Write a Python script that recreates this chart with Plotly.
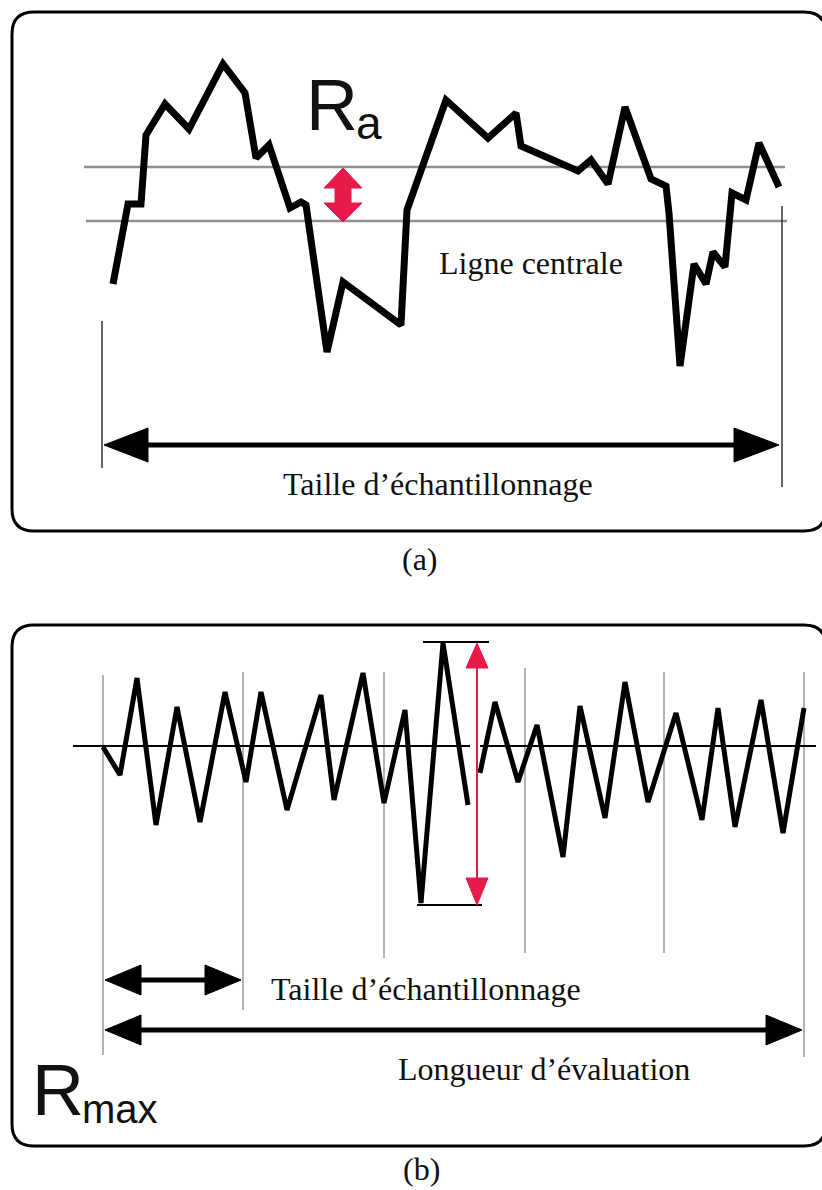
import plotly.graph_objects as go

W, H = 822, 1190

# ---------------- data: roughness profiles ----------------
profile_a_x = [113, 128, 141, 146, 165, 189, 223, 245, 256, 269, 290, 301, 306, 327, 343,
               401, 407, 446, 488, 516, 521, 578, 591, 608, 625, 651, 666, 669, 680, 694,
               706, 713, 725, 732, 746, 759, 779]
profile_a_y = [284, 204, 204, 135, 104, 129, 64, 93, 158, 145, 208, 202, 205, 352, 282,
               325, 210, 100, 138, 113, 146, 171, 160, 184, 107, 179, 186, 213, 366, 264,
               284, 252, 267, 193, 200, 143, 187]

profile_b_x = [103, 120, 137, 156, 177, 200, 225, 246, 261, 287, 321, 334, 363, 384, 405,
               421, 443, 468, None, 480, 495, 518, 537, 563, 580, 605, 625, 648, 676, 702,
               718, 735, 761, 783, 804]
profile_b_y = [747, 775, 678, 825, 707, 822, 692, 782, 692, 810, 695, 800, 673, 803, 710,
               903, 643, 805, None, 773, 702, 782, 725, 857, 706, 818, 682, 802, 713, 820,
               708, 827, 700, 833, 708]

# sampling-length boundaries in (b)
sample_x = [103, 243, 384, 525, 664, 804]
sample_top = [675, 672, 672, 668, 672, 672]
sample_bot = [1055, 1010, 958, 953, 953, 1057]

# labels
label_center = "Ligne centrale"
label_sample = "Taille d\u2019échantillonnage"
label_eval = "Longueur d\u2019évaluation"
caption_a = "(a)"
caption_b = "(b)"

RED = "#E8194B"
SERIF = "Liberation Serif, Times New Roman, serif"
SANS = "Liberation Sans, Arial, sans-serif"

fig = go.Figure()

fig.add_trace(go.Scatter(x=profile_a_x, y=profile_a_y, mode="lines",
                         line=dict(color="black", width=7), hoverinfo="skip"))
fig.add_trace(go.Scatter(x=profile_b_x, y=profile_b_y, mode="lines",
                         line=dict(color="black", width=5), hoverinfo="skip",
                         connectgaps=False))

shapes = []


def rounded_box(x0, y0, x1, y1, r):
    p = (f"M {x0+r},{y0} L {x1-r},{y0} Q {x1},{y0} {x1},{y0+r} "
         f"L {x1},{y1-r} Q {x1},{y1} {x1-r},{y1} L {x0+r},{y1} "
         f"Q {x0},{y1} {x0},{y1-r} L {x0},{y0+r} Q {x0},{y0} {x0+r},{y0} Z")
    return dict(type="path", path=p, line=dict(color="black", width=3),
                fillcolor="rgba(0,0,0,0)", layer="below")


def line(x0, y0, x1, y1, color="black", width=2, layer="above"):
    return dict(type="line", x0=x0, y0=y0, x1=x1, y1=y1,
                line=dict(color=color, width=width), layer=layer)


def tri_h(tip_x, y, base_x, half, color="black"):
    p = f"M {tip_x},{y} L {base_x},{y-half} L {base_x},{y+half} Z"
    return dict(type="path", path=p, fillcolor=color, line=dict(color=color, width=1))


def tri_v(x, tip_y, base_y, half, color):
    p = f"M {x},{tip_y} L {x-half},{base_y} L {x+half},{base_y} Z"
    return dict(type="path", path=p, fillcolor=color, line=dict(color=color, width=1))


# boxes
shapes.append(rounded_box(12, 12, 826, 531, 22))
shapes.append(rounded_box(12, 625, 826, 1146, 22))

# (a) mean lines
shapes.append(line(84, 167, 785, 167, "#8f8f8f", 2.5, "below"))
shapes.append(line(86, 221, 787, 221, "#8f8f8f", 2.5, "below"))

# (a) limits
shapes.append(line(102, 321, 102, 468, "#333333", 1.5))
shapes.append(line(782, 206, 782, 487, "#333333", 1.5))

# (a) sampling arrow
shapes.append(line(140, 445, 740, 445, "black", 5))
shapes.append(tri_h(104, 445, 148, 17))
shapes.append(tri_h(779, 445, 734, 17))

# (a) red Ra arrow
ra = ("M 343,168 L 324,188 L 335,188 L 335,203 L 324,203 L 343,222 "
      "L 362,203 L 351,203 L 351,188 L 362,188 Z")
shapes.append(dict(type="path", path=ra, fillcolor=RED, line=dict(color=RED, width=1)))

# (b) center line
shapes.append(line(73, 746, 470, 746, "black", 2))
shapes.append(line(480, 746, 816, 746, "black", 2))

# (b) sampling boundaries
for xs, t, b in zip(sample_x, sample_top, sample_bot):
    shapes.append(line(xs, t, xs, b, "#9a9a9a", 1.5, "below"))

# (b) Rmax caps and red arrow
shapes.append(line(423, 642, 489, 642, "black", 2))
shapes.append(line(417, 905, 482, 905, "black", 2))
shapes.append(line(477, 665, 477, 882, RED, 2))
shapes.append(tri_v(477, 643, 668, 11, RED))
shapes.append(tri_v(477, 905, 878, 11, RED))

# (b) arrows
shapes.append(line(135, 980, 210, 980, "black", 5))
shapes.append(tri_h(105, 980, 141, 15))
shapes.append(tri_h(241, 980, 205, 15))
shapes.append(line(135, 1030, 772, 1030, "black", 5))
shapes.append(tri_h(105, 1030, 141, 15))
shapes.append(tri_h(802, 1030, 766, 15))

annotations = []


def text(x, y, s, size, family, color="#111111"):
    annotations.append(dict(x=x, y=y, xref="x", yref="y", text=s, showarrow=False,
                            xanchor="center", yanchor="middle",
                            font=dict(size=size, family=family, color=color)))


text(332, 105, "R", 72, SANS)
text(369, 123, "a", 46, SANS)
text(531, 263, label_center, 32, SERIF)
text(438, 484, label_sample, 32, SERIF)
text(420, 559, caption_a, 32, SERIF)
text(426, 989, label_sample, 32, SERIF)
text(544, 1069, label_eval, 32, SERIF)
text(58, 1090, "R", 72, SANS)
text(120, 1109, "max", 40, SANS)
text(421, 1169, caption_b, 32, SERIF)

fig.update_layout(
    width=W, height=H, autosize=False,
    margin=dict(l=0, r=0, t=0, b=0),
    paper_bgcolor="white", plot_bgcolor="white",
    showlegend=False,
    xaxis=dict(range=[0, W], visible=False, fixedrange=True),
    yaxis=dict(range=[H, 0], visible=False, fixedrange=True),
    shapes=shapes, annotations=annotations,
)

fig.write_html("out.html", config={"displayModeBar": False},
               post_script="document.body.style.margin='0';document.body.style.padding='0';")
